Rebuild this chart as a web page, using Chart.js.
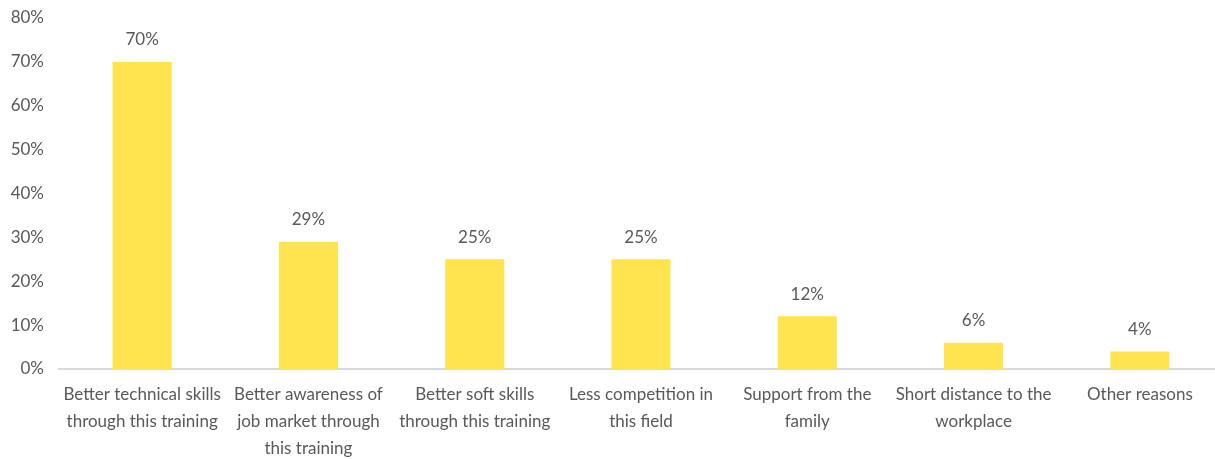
<!DOCTYPE html>
<html>
<head>
<meta charset="utf-8">
<script src="https://cdn.jsdelivr.net/npm/chart.js@4"></script>
<style>
  html, body { margin: 0; padding: 0; background: #fff; overflow: hidden; }
  #wrap { width: 1223px; height: 459px; }
</style>
</head>
<body>
<div id="wrap"><canvas id="reasons"></canvas></div>
<script>
const categories = [
    ['Better technical skills', 'through this training'],
    ['Better awareness of', 'job market through', 'this training'],
    ['Better soft skills', 'through this training'],
    ['Less competition in', 'this field'],
    ['Support from the', 'family'],
    ['Short distance to the', 'workplace'],
    ['Other reasons']
];
const shares = [70, 29, 25, 25, 12, 6, 4];
const yTicks = [0, 10, 20, 30, 40, 50, 60, 70, 80];

const fontFamily = 'Lato, "Open Sans", sans-serif';
const textColor = '#595959';

// draws the percentage above each bar
const valueLabels = {
    id: 'valueLabels',
    afterDatasetsDraw(chart) {
        const ctx = chart.ctx;
        const meta = chart.getDatasetMeta(0);
        ctx.save();
        ctx.font = '17px ' + fontFamily;
        ctx.fillStyle = textColor;
        ctx.textAlign = 'center';
        ctx.textBaseline = 'middle';
        meta.data.forEach((bar, i) => {
            ctx.fillText(shares[i] + '%', bar.x, bar.y - 22);
        });
        ctx.restore();
    }
};

const ctx = document.getElementById('reasons').getContext('2d');

new Chart(ctx, {
    type: 'bar',
    data: {
        labels: categories,
        datasets: [{
            data: shares,
            backgroundColor: '#FFE34F',
            borderWidth: 0,
            categoryPercentage: 1,
            barPercentage: 0.355
        }]
    },
    options: {
        responsive: true,
        maintainAspectRatio: false,
        animation: false,
        layout: {
            padding: { top: 18, right: 0, bottom: 0, left: 0 }
        },
        scales: {
            x: {
                grid: { display: false, drawTicks: false },
                border: { display: true, color: '#D9D9D9', width: 2 },
                afterFit: axis => {
                    axis.height = 90;
                },
                ticks: {
                    color: textColor,
                    font: { family: fontFamily, size: 17, lineHeight: 1.6 },
                    padding: 12,
                    maxRotation: 0,
                    autoSkip: false
                }
            },
            y: {
                min: 0,
                max: 80,
                afterBuildTicks: axis => {
                    axis.ticks = yTicks.map(v => ({ value: v }));
                },
                afterFit: axis => {
                    axis.width = 59;
                    axis.paddingTop = 0;
                },
                grid: { display: false, drawTicks: false },
                border: { display: false },
                ticks: {
                    color: textColor,
                    font: { family: fontFamily, size: 17 },
                    padding: 15,
                    callback: value => value + '%'
                }
            }
        },
        plugins: {
            legend: { display: false },
            tooltip: { enabled: false }
        }
    },
    plugins: [valueLabels]
});
</script>
</body>
</html>
